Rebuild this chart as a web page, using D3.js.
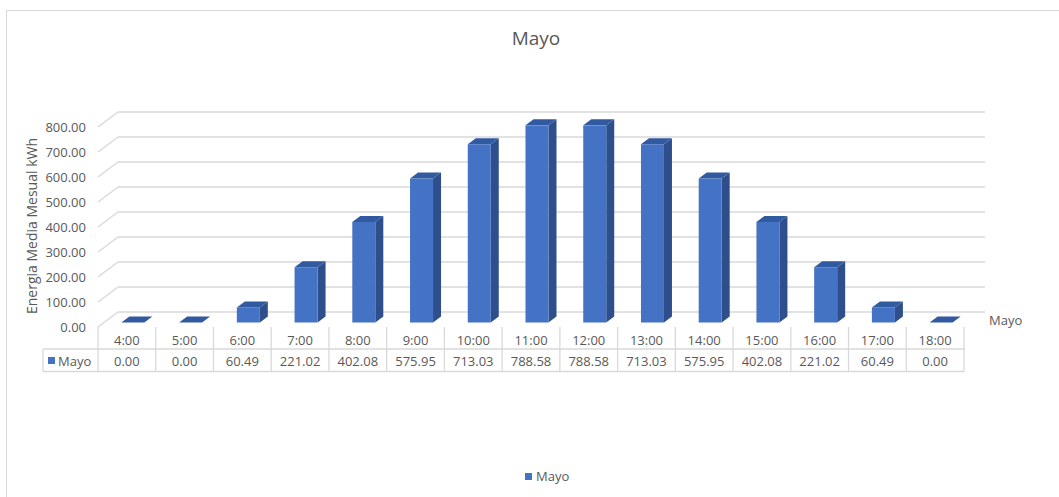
<!DOCTYPE html>
<html>
<head>
<meta charset="utf-8">
<script src="https://cdn.jsdelivr.net/npm/d3@7"></script>
<style>
  body { margin: 0; background: #fff; }
  text { font-family: "Open Sans", "Noto Sans", sans-serif; fill: #595959; }
</style>
</head>
<body>
<div id="chart"></div>
<script>
// ---------------- data ----------------
var horas = ["4:00","5:00","6:00","7:00","8:00","9:00","10:00","11:00","12:00","13:00","14:00","15:00","16:00","17:00","18:00"];
var mayo = [0.00, 0.00, 60.49, 221.02, 402.08, 575.95, 713.03, 788.58, 788.58, 713.03, 575.95, 402.08, 221.02, 60.49, 0.00];
var yTicks = [0, 100, 200, 300, 400, 500, 600, 700, 800];
var serie = "Mayo";

// ---------------- layout ----------------
var width = 1059, height = 497;
var depthX = 20, depthY = 15;   // floor depth (front -> back wall)
var gridColor = "#d9d9d9";

var svg = d3.select("#chart").append("svg")
    .attr("width", width)
    .attr("height", height);

// outer border
svg.append("rect")
    .attr("x", 6.5).attr("y", 10.5)
    .attr("width", 1060).attr("height", 500)
    .attr("fill", "none")
    .attr("stroke", "#d9d9d9");

var x = d3.scaleBand().domain(horas).range([98, 964]);
var yFront = d3.scaleLinear().domain([0, 800]).range([327, 127]);
var yBack = d3.scaleLinear().domain([0, 800]).range([312, 112]);

// title
svg.append("text")
    .attr("x", 536).attr("y", 45)
    .attr("text-anchor", "middle")
    .style("font-size", "19px")
    .text(serie);

//------------------------------ walls / gridlines ------------------------------
var grid = svg.append("g");
yTicks.forEach(function(v) {
  grid.append("line")
      .attr("x1", 98).attr("y1", yFront(v))
      .attr("x2", 98 + depthX).attr("y2", yBack(v))
      .attr("stroke", gridColor).attr("stroke-width", 1.3);
  grid.append("line")
      .attr("x1", 98 + depthX).attr("y1", yBack(v))
      .attr("x2", 985).attr("y2", yBack(v))
      .attr("stroke", gridColor).attr("stroke-width", 1.3);
});

// y tick labels
svg.append("g").selectAll("text")
    .data(yTicks)
  .enter().append("text")
    .attr("x", 86)
    .attr("y", function(d) { return yFront(d); })
    .attr("dy", "0.35em")
    .attr("text-anchor", "end")
    .style("font-size", "13px")
    .text(function(d) { return d.toFixed(2); });

// y title
svg.append("text")
    .attr("transform", "translate(32,226) rotate(-90)")
    .attr("dy", "0.35em")
    .attr("text-anchor", "middle")
    .style("font-size", "14px")
    .text("Energia Media Mesual kWh");

// series (depth) label
svg.append("text")
    .attr("x", 989).attr("y", 320)
    .attr("dy", "0.35em")
    .style("font-size", "13px")
    .text(serie);

//------------------------------ 3d bars ------------------------------
var barW = 23, sideX = 8, sideY = 6;
var yBar = d3.scaleLinear().domain([0, 800]).range([322.5, 122.5]);

var bars = svg.append("g").selectAll("g")
    .data(mayo)
  .enter().append("g");

function barLeft(d, i) { return x(horas[i]) + x.bandwidth() / 2 + 6 - barW / 2; }

// side face
bars.append("path")
    .attr("fill", "#2e4f8c")
    .attr("d", function(d, i) {
      var l = barLeft(d, i) + barW, t = yBar(d), b = yBar(0);
      return "M" + l + "," + t + "L" + (l + sideX) + "," + (t - sideY) +
             "L" + (l + sideX) + "," + (b - sideY) + "L" + l + "," + b + "Z";
    });
// top face
bars.append("path")
    .attr("fill", "#325aa0")
    .attr("d", function(d, i) {
      var l = barLeft(d, i), t = yBar(d);
      return "M" + l + "," + t + "L" + (l + barW) + "," + t +
             "L" + (l + barW + sideX) + "," + (t - sideY) + "L" + (l + sideX) + "," + (t - sideY) + "Z";
    });
// front face
bars.append("rect")
    .attr("fill", "#4472c4")
    .attr("x", barLeft)
    .attr("y", function(d) { return yBar(d); })
    .attr("width", barW)
    .attr("height", function(d) { return yBar(0) - yBar(d); });

//------------------------------ data table ------------------------------
var tTop = 327, tMid = 349, tBot = 371.5;
var table = svg.append("g");
var tline = function(x1, y1, x2, y2) {
  table.append("line")
      .attr("x1", x1).attr("y1", y1).attr("x2", x2).attr("y2", y2)
      .attr("stroke", gridColor).attr("stroke-width", 1.3);
};
var edges = horas.map(function(h) { return x(h); }).concat([x.range()[1]]);
edges.forEach(function(e) { tline(e, tTop, e, tBot); });
tline(43, tMid, 964, tMid);
tline(43, tBot, 964, tBot);
tline(43, tMid, 43, tBot);

table.selectAll("text.cat")
    .data(horas)
  .enter().append("text")
    .attr("class", "cat")
    .attr("x", function(d) { return x(d) + x.bandwidth() / 2; })
    .attr("y", 340)
    .attr("dy", "0.35em")
    .attr("text-anchor", "middle")
    .style("font-size", "13px")
    .text(function(d) { return d; });

table.selectAll("text.val")
    .data(mayo)
  .enter().append("text")
    .attr("class", "val")
    .attr("x", function(d, i) { return x(horas[i]) + x.bandwidth() / 2; })
    .attr("y", 361)
    .attr("dy", "0.35em")
    .attr("text-anchor", "middle")
    .style("font-size", "13px")
    .text(function(d) { return d.toFixed(2); });

table.append("rect")
    .attr("x", 48).attr("y", 357).attr("width", 7).attr("height", 7)
    .attr("fill", "#4472c4");
table.append("text")
    .attr("x", 58).attr("y", 361)
    .attr("dy", "0.35em")
    .style("font-size", "13px")
    .text(serie);

//------------------------------ legend ------------------------------
svg.append("rect")
    .attr("x", 525).attr("y", 473).attr("width", 7).attr("height", 7)
    .attr("fill", "#4472c4");
svg.append("text")
    .attr("x", 536).attr("y", 476.5)
    .attr("dy", "0.35em")
    .style("font-size", "13px")
    .text(serie);
</script>
</body>
</html>
